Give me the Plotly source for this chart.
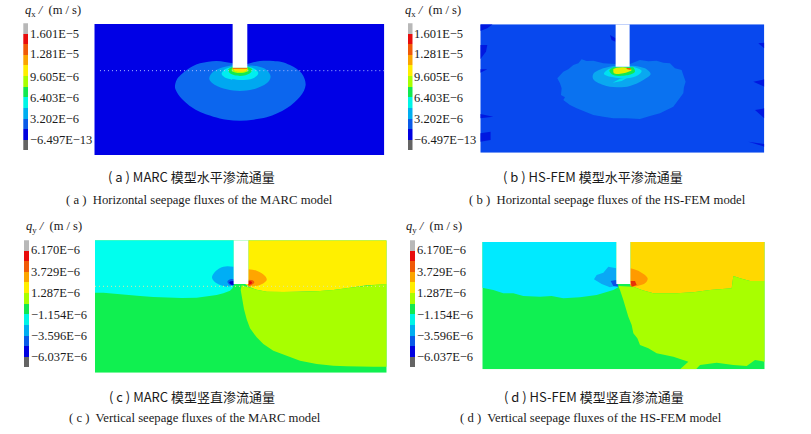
import plotly.graph_objects as go

W, H = 811, 434

# colour bands of the legend, top to bottom
BANDS = ["#b8b8b8", "#e80c0c", "#f05a08", "#fba500", "#ffee00", "#a8ff00",
         "#12e850", "#00f5e6", "#00aef0", "#0a5ae8", "#0000e0", "#646464"]
QX_TICKS = ["1.601E−5", "1.281E−5", "9.605E−6", "6.403E−6", "3.202E−6", "−6.497E−13"]
QY_TICKS = ["6.170E−6", "3.729E−6", "1.287E−6", "−1.154E−6", "−3.596E−6", "−6.037E−6"]

# ── region outlines (x, y in model drawing units) ─────────────────────────────
# (a) MARC qx
A_OUTER = [(698,190),(675,186),(650,183),(625,185),(600,190),(578,199),(560,210),(542,225),(530,240),(525,262),
           (530,275),(540,290),(558,308),(580,325),(610,340),(640,350),(680,359),(720,362),(760,359),(800,352),
           (832,340),(860,325),(882,308),(900,290),(912,272),(917,255),(914,237),(905,220),(890,206),(870,195),
           (845,186),(820,183),(800,182),(780,183),(760,187),(742,192)]
A_SKY = [(698,196),(660,205),(635,220),(628,238),(645,255),(680,268),(720,273),(760,268),(800,250),
         (812,230),(800,210),(770,198),(742,197)]
A_CYAN = [(698,200),(675,208),(665,222),(680,235),(720,240),(760,235),(775,220),(765,207),(742,200)]
A_GREEN = [(698,200),(685,208),(690,220),(720,228),(750,220),(757,208),(742,200)]
A_LIME = [(698,203),(695,212),(720,219),(745,212),(742,203)]
A_YELLOW = [(700,205),(705,213),(720,215),(738,213),(742,205)]
A_RED = [(698,203),(742,203),(742,206),(698,206)]
A_SLOT = [(698,72),(742,72),(742,203),(698,203)]

# (b) HS-FEM qx
B_OUTER = [(647,192),(610,190),(580,182),(560,183),(545,178),(535,190),(520,195),(505,208),(490,215),(472,235),
           (480,250),(485,265),(483,285),(495,292),(490,300),(510,315),(530,325),(555,335),(580,345),(610,350),
           (640,355),(680,355),(720,357),(750,348),(780,340),(800,330),(820,320),(835,300),(850,280),(852,262),
           (857,245),(850,225),(845,210),(825,205),(810,190),(790,188),(770,182),(745,184),(720,180),(690,192)]
B_SKY = [(647,197),(610,205),(580,222),(580,238),(610,255),(650,262),(690,258),(730,240),(752,222),
         (735,205),(700,197)]
B_CYAN = [(647,200),(625,208),(612,222),(640,232),(680,235),(715,225),(725,212),(700,200)]
B_STREAK = [(638,248),(660,236),(685,232),(665,243)]
B_GREEN = [(640,202),(628,212),(640,225),(680,226),(705,215),(700,202)]
B_YELLOW = [(640,207),(642,220),(670,220),(695,210),(680,203),(650,203)]
B_RED = [(680,203),(692,205),(692,210),(680,207)]
B_SLOT = [(647,73),(689,73),(689,200),(647,200)]
B_DARK = [
    [(241,73),(278,73),(262,85),(241,93)],
    [(241,135),(262,135),(258,155),(241,178)],
    [(241,208),(262,208),(241,218)],
    [(241,342),(280,350),(241,355)],
    [(241,400),(272,395),(272,420),(241,425)],
    [(630,105),(647,115),(647,125),(635,120)],
    [(1075,130),(1093,128),(1093,145)],
    [(1060,245),(1093,238),(1093,260)],
    [(1065,330),(1093,325),(1093,355)],
    [(1045,425),(1093,432),(1093,440)],
]

# (c) MARC qy
C_CYAN = [(285,91),(701,91),(701,222),(698,234),(690,242),(670,250),(650,255),(620,260),(590,263),(545,264),(500,263),
          (460,261),(420,258),(380,254),(340,250),(310,248),(285,248)]
C_YELLOW = [(745,91),(1160,91),(1160,223),(1130,224),(1100,226),(1050,233),(1000,240),(950,244),(900,246),(850,246),
            (800,245),(770,239),(750,232),(735,222),(745,222)]
C_LIME = [(725,226),(745,232),(770,239),(800,245),(850,246),(900,246),(950,244),(1000,240),(1050,233),(1100,226),
          (1130,224),(1160,222),(1160,470),(1120,470),(1080,470),(1040,469),(1000,467),(950,462),(900,452),(860,438),
          (820,422),(790,402),(770,382),(750,355),(740,328),(732,298),(726,268),(722,240)]
C_SKY = [(701,170),(670,170),(645,185),(636,203),(650,220),(680,230),(701,226)]
C_BLUE = [(701,208),(690,208),(682,215),(690,225),(701,226)]
C_DEEP = [(701,213),(692,214),(688,218),(695,224),(701,224)]
C_ORANGE = [(745,178),(770,182),(795,198),(800,210),(780,225),(745,230)]
C_REDOR = [(745,209),(758,211),(763,217),(755,225),(745,228)]
C_RED = [(745,213),(752,214),(756,218),(750,223),(745,224)]
C_SLOT = [(701,91),(745,91),(745,222),(701,222)]

# (d) HS-FEM qy
D_CYAN = [(247,96),(649,96),(649,222),(655,232),(640,240),(615,248),(590,255),(540,262),(490,265),(455,258),(420,260),
          (370,258),(340,250),(310,250),(280,240),(247,233)]
D_GOLD = [(691,96),(1094,96),(1094,213),(1050,213),(1020,205),(1000,198),(995,235),(930,240),(880,247),(830,250),
          (760,250),(725,240),(700,230),(691,225)]
D_LIME = [(655,228),(700,230),(725,240),(760,250),(830,250),(880,247),(930,240),(995,235),(1000,198),(1020,205),(1050,213),
          (1094,213),(1094,455),(1065,450),(1040,468),(1000,465),(950,458),(900,465),(888,478),(840,478),(865,455),(820,440),
          (770,430),(745,415),(720,405),(712,385),(700,370),(695,345),(685,320),(678,295),(670,270),(660,240)]
D_SKY = [(649,175),(625,170),(610,188),(590,195),(582,208),(605,222),(630,232),(649,228)]
D_BLUE = [(649,210),(632,213),(640,228),(655,230)]
D_ORANGE = [(691,175),(720,185),(743,205),(735,220),(700,230),(691,228)]
D_RED = [(691,213),(705,213),(710,225),(695,230)]
D_SLOT = [(649,96),(691,96),(691,222),(649,222)]

# ── panels: (px left, px right, px top, px bottom, x range, y range, background) ──
PANELS = [
    (94.3, 384.3, 24, 155, [283, 1153], [465, 72], "#0000e6"),
    (480.3, 764.3, 24.3, 152.7, [241, 1093], [458, 73], "#0848ee"),
    (95, 386.7, 240.3, 372.7, [285, 1160], [488, 91], "#10f050"),
    (482.3, 764.7, 242, 369.3, [247, 1094], [478, 96], "#10f052"),
]
BARS = [(23.3, 28, 23.3, 150.7), (407.5, 412.5, 23.3, 150.7), (23.8, 29, 240.3, 367.7), (410, 415, 240.3, 367.7)]

# third field: smooth outline or keep the jagged mesh edge
REGIONS = [
    [(A_OUTER, "#0c66ee", True), (A_SKY, "#00a8f0", True), (A_CYAN, "#00eef0", True), (A_GREEN, "#12e850", True),
     (A_LIME, "#a8ff00", True), (A_YELLOW, "#ffe000", True), (A_RED, "#f05a08", False), (A_SLOT, "white", False)],
    [(p, "#0018e0", False) for p in B_DARK] +
    [(B_OUTER, "#0a72f0", False), (B_SKY, "#0aa8f0", True), (B_CYAN, "#00e0f0", True), (B_STREAK, "#00e0f0", False),
     (B_GREEN, "#12e850", True), (B_YELLOW, "#e6ee00", True), (B_RED, "#f05a08", False), (B_SLOT, "white", False)],
    [(C_CYAN, "#00ffee", False), (C_YELLOW, "#fff000", False), (C_LIME, "#a8ff00", False), (C_SKY, "#00aef5", True),
     (C_BLUE, "#0a5ae8", True), (C_DEEP, "#0000c8", True), (C_ORANGE, "#ffa500", True), (C_REDOR, "#f05a08", True),
     (C_RED, "#e80c0c", True), (C_SLOT, "white", False)],
    [(D_CYAN, "#00eaff", False), (D_GOLD, "#ffd800", False), (D_LIME, "#a8ff00", False), (D_SKY, "#0aa8f5", False),
     (D_BLUE, "#0a50e8", False), (D_ORANGE, "#ff9a00", True), (D_RED, "#e83008", False), (D_SLOT, "white", False)],
]

fig = go.Figure()
layout = {}

for i, (panel, bar, regions) in enumerate(zip(PANELS, BARS, REGIONS)):
    x0, x1, y0, y1, xr, yr, bg = panel
    n = 2 * i + 1
    layout[f"xaxis{n}"] = dict(domain=[x0 / W, x1 / W], range=xr, visible=False, anchor=f"y{n}")
    layout[f"yaxis{n}"] = dict(domain=[1 - y1 / H, 1 - y0 / H], range=yr, visible=False, anchor=f"x{n}")
    fig.add_trace(go.Scatter(x=[xr[0], xr[1], xr[1], xr[0]], y=[yr[0], yr[0], yr[1], yr[1]],
                             fill="toself", fillcolor=bg, mode="lines", line=dict(width=0),
                             xaxis=f"x{n}", yaxis=f"y{n}", hoverinfo="skip"))
    for pts, col, smooth in regions:
        line = dict(width=0, shape="spline", smoothing=1.0, simplify=False) if smooth else dict(width=0)
        fig.add_trace(go.Scatter(x=[p[0] for p in pts], y=[p[1] for p in pts], fill="toself",
                                 fillcolor=col, mode="lines", line=line,
                                 xaxis=f"x{n}", yaxis=f"y{n}", hoverinfo="skip"))

    # legend column: one stacked bar segment per band
    bx0, bx1, by0, by1 = bar
    m = 2 * i + 2
    layout[f"xaxis{m}"] = dict(domain=[bx0 / W, bx1 / W], range=[-0.5, 0.5], visible=False, anchor=f"y{m}")
    layout[f"yaxis{m}"] = dict(domain=[1 - by1 / H, 1 - by0 / H], range=[0, len(BANDS)], visible=False, anchor=f"x{m}")
    for col in reversed(BANDS):
        fig.add_trace(go.Bar(x=[0], y=[1], marker=dict(color=col, line=dict(width=0)),
                             xaxis=f"x{m}", yaxis=f"y{m}", hoverinfo="skip"))

# dotted water line in (a) and (c)
fig.add_trace(go.Scatter(x=[300, 698], y=[212, 212], mode="lines", xaxis="x", yaxis="y",
                         line=dict(color="#a8bcff", width=1, dash="1px 3px"), hoverinfo="skip"))
fig.add_trace(go.Scatter(x=[742, 1153], y=[212, 212], mode="lines", xaxis="x", yaxis="y",
                         line=dict(color="#a8bcff", width=1, dash="1px 3px"), hoverinfo="skip"))
fig.add_trace(go.Scatter(x=[285, 1160], y=[229, 229], mode="lines", xaxis="x5", yaxis="y5",
                         line=dict(color="#d8e8a0", width=1, dash="1px 3px"), hoverinfo="skip"))

SERIF = "Liberation Serif"
CJK = "Noto Sans CJK SC"


def label(x, y, text, size=12.5, family=SERIF, anchor="left"):
    return dict(x=x / W, y=1 - y / H, xref="paper", yref="paper", text=text, showarrow=False,
                xanchor=anchor, yanchor="middle", font=dict(family=family, size=size, color="#1a1a1a"))


annotations = []
TICK_Y_TOP = [33.5, 54.5, 76.5, 98, 119, 139.5]
TICK_Y_BOT = [250, 271.7, 293.3, 315, 336, 356.7]
for x, ys, ticks in [(27.5, TICK_Y_TOP, QX_TICKS), (411.5, TICK_Y_TOP, QX_TICKS),
                     (29, TICK_Y_BOT, QY_TICKS), (415, TICK_Y_BOT, QY_TICKS)]:
    annotations += [label(x, y, t) for y, t in zip(ys, ticks)]

for x, y, sub in [(22.5, 11, "x"), (403, 11, "x"), (23.5, 227, "y"), (404, 227, "y")]:
    annotations.append(label(x, y, f"<i>q</i><sub>{sub}</sub> <i>/</i>  (m / s)", size=12.5))

annotations += [
    label(191, 177, "( a ) MARC 模型水平渗流通量", size=13, family=CJK, anchor="center"),
    label(592.5, 177, "( b ) HS-FEM 模型水平渗流通量", size=13, family=CJK, anchor="center"),
    label(192, 396, "( c ) MARC 模型竖直渗流通量", size=13, family=CJK, anchor="center"),
    label(594, 396, "( d ) HS-FEM 模型竖直渗流通量", size=13, family=CJK, anchor="center"),
    label(199.7, 199.5, "( a )  Horizontal seepage fluxes of the MARC model", size=12.7, anchor="center"),
    label(607, 199.5, "( b )  Horizontal seepage fluxes of the HS-FEM model", size=12.7, anchor="center"),
    label(195, 418, "( c )  Vertical seepage fluxes of the MARC model", size=12.7, anchor="center"),
    label(591, 418, "( d )  Vertical seepage fluxes of the HS-FEM model", size=12.7, anchor="center"),
]

fig.update_layout(width=W, height=H, margin=dict(l=0, r=0, t=0, b=0), showlegend=False,
                  barmode="stack", bargap=0, paper_bgcolor="white", plot_bgcolor="white",
                  annotations=annotations, **layout)

fig.write_html("out.html", config={"displayModeBar": False},
               post_script="document.body.style.margin='0';")
